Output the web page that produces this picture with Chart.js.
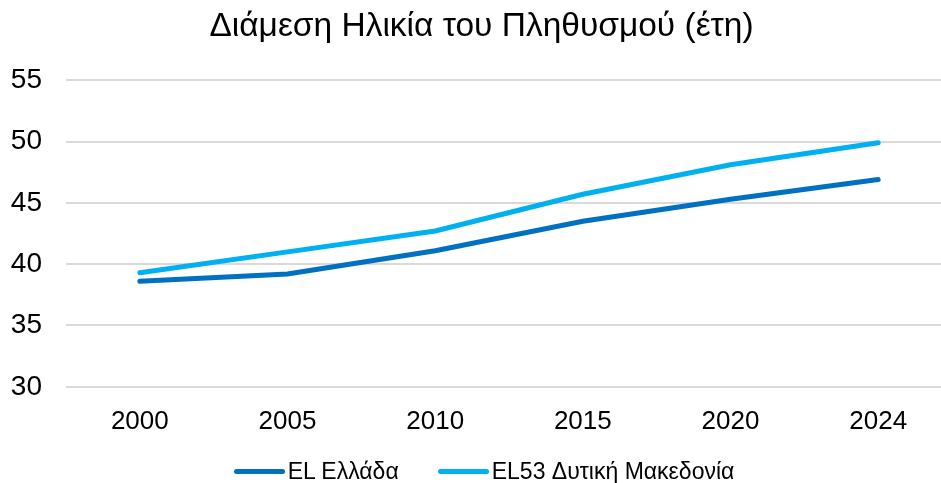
<!DOCTYPE html>
<html>
<head>
<meta charset="utf-8">
<script src="https://cdn.jsdelivr.net/npm/chart.js@4/dist/chart.umd.min.js"></script>
<style>
  html, body { margin: 0; padding: 0; background: #fff; overflow: hidden; }
  #wrap { position: relative; width: 941px; height: 483px; overflow: hidden; }
  #mychart { position: absolute; left: 0; top: 0; }
  #legend {
    position: absolute; left: 0; top: 457px; width: 968px; height: 28px;
    display: flex; justify-content: center; align-items: center;
    font-family: 'Liberation Sans', Arial, sans-serif; font-size: 23px; color: #000;
  }
  .item { display: flex; align-items: center; margin: 0 19.5px; white-space: nowrap; }
  .swatch { display: inline-block; width: 51px; height: 5px; border-radius: 3px; margin-right: 3px; }
</style>
</head>
<body>
<div id="wrap">
  <canvas id="mychart" width="972" height="483"></canvas>
  <div id="legend"></div>
</div>
<script>
var years = ["2000", "2005", "2010", "2015", "2020", "2024"]
var greece = [38.6, 39.2, 41.1, 43.5, 45.3, 46.9]
var westMacedonia = [39.3, 41.0, 42.7, 45.7, 48.1, 49.9]
var yTicks = [30, 35, 40, 45, 50, 55]

Chart.defaults.font.family = "'Liberation Sans', Arial, sans-serif"
Chart.defaults.color = "#000"

// html legend built from the chart's own legend items
var htmlLegend = {
  id: "htmlLegend",
  afterUpdate: function(chart) {
    var box = document.getElementById("legend")
    box.innerHTML = ""
    var items = chart.options.plugins.legend.labels.generateLabels(chart)
    items.forEach(function(it) {
      var div = document.createElement("div")
      div.className = "item"
      var sw = document.createElement("span")
      sw.className = "swatch"
      sw.style.background = it.strokeStyle
      var txt = document.createElement("span")
      txt.textContent = it.text
      div.appendChild(sw)
      div.appendChild(txt)
      box.appendChild(div)
    })
  }
}

var ctx = document.getElementById("mychart").getContext("2d")
var chart = new Chart(ctx, {
  type: "line",
  data: {
    labels: years,
    datasets: [
      { label: "EL Ελλάδα",
        data: greece,
        borderColor: "#0070C0",
        backgroundColor: "#0070C0",
        borderWidth: 5,
        pointRadius: 0,
        borderCapStyle: "round"
      },
      { label: "EL53 Δυτική Μακεδονία",
        data: westMacedonia,
        borderColor: "#00B0F0",
        backgroundColor: "#00B0F0",
        borderWidth: 5,
        pointRadius: 0,
        borderCapStyle: "round"
      }
    ]
  },
  options: {
    responsive: false,
    animation: false,
    layout: { padding: { left: 11, right: 20, top: 0, bottom: 27 } },
    plugins: {
      title: {
        display: true,
        text: "Διάμεση Ηλικία του Πληθυσμού (έτη)",
        font: { size: 33.5, weight: "normal" },
        color: "#000",
        padding: { top: 7, bottom: 33 }
      },
      legend: { display: false },
      tooltip: { enabled: false }
    },
    scales: {
      x: {
        offset: true,
        grid: { display: false, drawTicks: false },
        border: { display: false },
        ticks: { font: { size: 26 }, padding: 19, color: "#000" }
      },
      y: {
        min: 30,
        max: 55,
        afterBuildTicks: function(axis) {
          axis.ticks = yTicks.map(function(v) { return { value: v } })
        },
        // fit reserves padding twice, keep the box just label + gap
        afterFit: function(axis) { axis.width = 55 },
        grid: { color: "#D9D9D9", lineWidth: 2, drawTicks: false },
        border: { display: false },
        ticks: { font: { size: 28 }, padding: 24, color: "#000" }
      }
    }
  },
  plugins: [htmlLegend]
})
</script>
</body>
</html>
